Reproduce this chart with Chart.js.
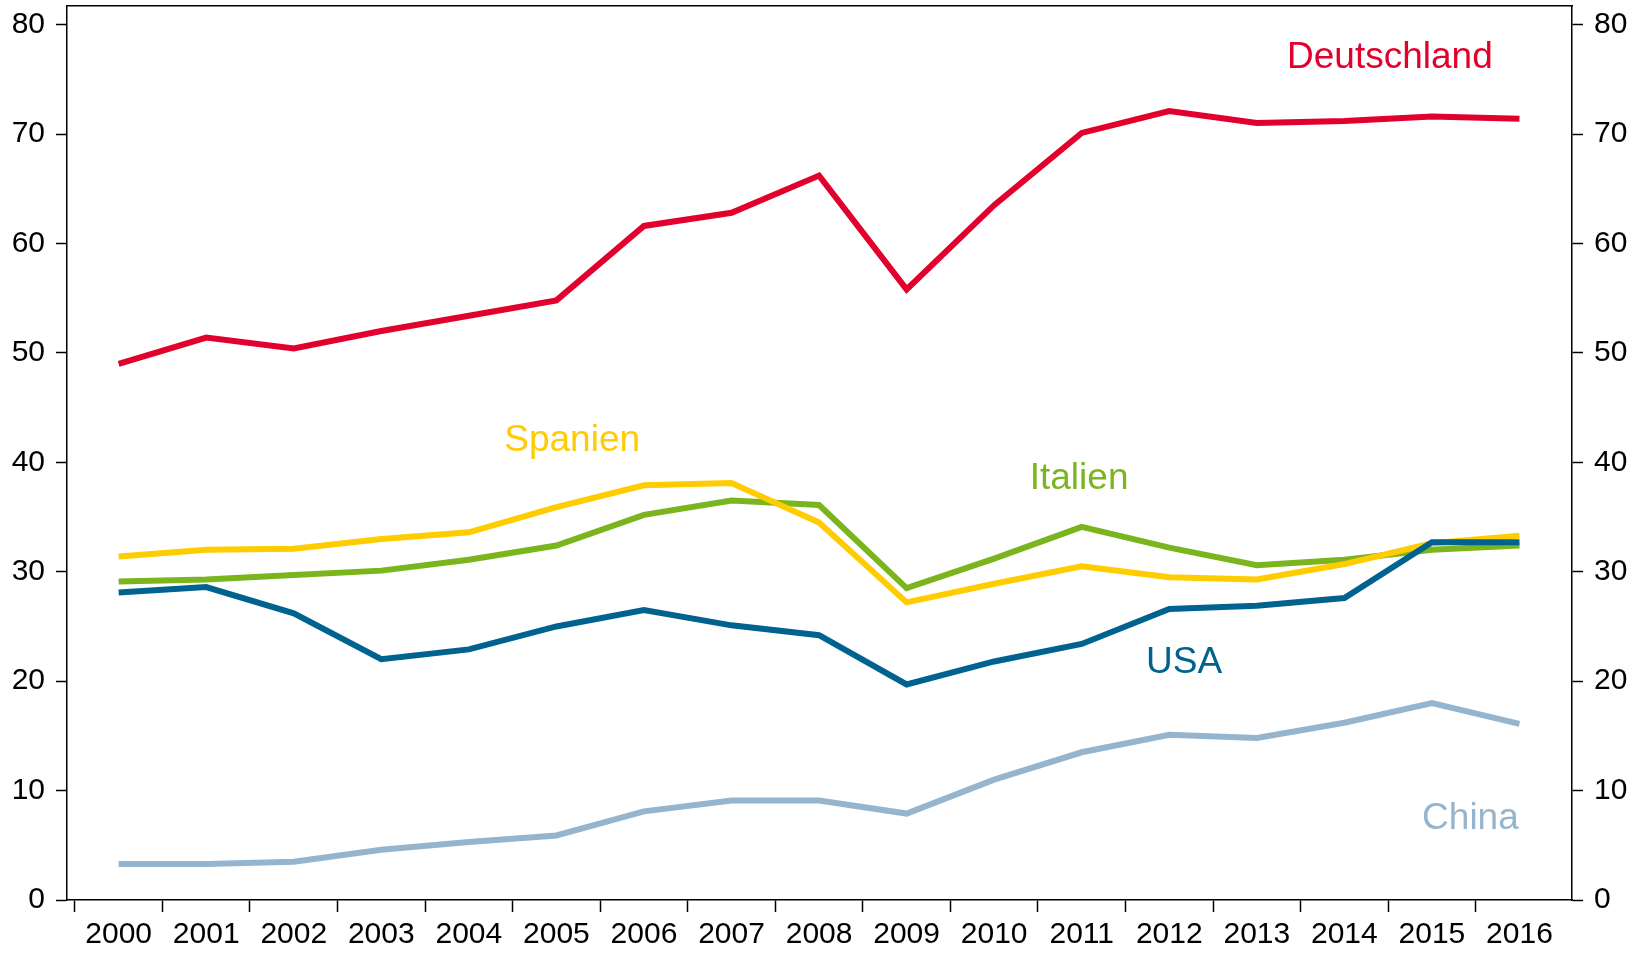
<!DOCTYPE html>
<html>
<head>
<meta charset="utf-8">
<script src="https://cdn.jsdelivr.net/npm/chart.js@4/dist/chart.umd.min.js"></script>
<style>
  html, body { margin: 0; padding: 0; background: #ffffff; }
  #wrap { width: 1647px; height: 953px; }
</style>
</head>
<body>
<div id="wrap"><canvas id="chart" width="1647" height="953"></canvas></div>
<script>
//--------------------Data-------------------
const years = ["2000", "2001", "2002", "2003", "2004", "2005", "2006", "2007", "2008",
  "2009", "2010", "2011", "2012", "2013", "2014", "2015", "2016"];

const deutschland = [49.0, 51.4, 50.4, 52.0, 53.4, 54.8, 61.6, 62.8, 66.2, 55.8, 63.5, 70.1, 72.1, 71.0, 71.2, 71.6, 71.4];
const spanien     = [31.4, 32.0, 32.1, 33.0, 33.6, 35.9, 37.9, 38.1, 34.5, 27.2, 28.9, 30.5, 29.5, 29.3, 30.7, 32.6, 33.3];
const italien     = [29.1, 29.3, 29.7, 30.1, 31.1, 32.4, 35.2, 36.5, 36.1, 28.5, 31.2, 34.1, 32.2, 30.6, 31.1, 32.0, 32.4];
const usa         = [28.1, 28.6, 26.2, 22.0, 22.9, 25.0, 26.5, 25.1, 24.2, 19.7, 21.8, 23.4, 26.6, 26.9, 27.6, 32.7, 32.7];
const china       = [3.3, 3.3, 3.5, 4.6, 5.3, 5.9, 8.1, 9.1, 9.1, 7.9, 11.0, 13.5, 15.1, 14.8, 16.2, 18.0, 16.1];

const yTicks = [0, 10, 20, 30, 40, 50, 60, 70, 80];

// ----------------Style-------------------
const FONT = "'Liberation Sans', Arial, Helvetica, sans-serif";
const colors = {
  deutschland: "#e2002d",
  spanien: "#ffcc00",
  italien: "#7ab51d",
  usa: "#00628f",
  china: "#95b5cf"
};

// series name labels, placed in data units (x = year index, y = value)
const seriesLabels = [
  { text: "Deutschland", x: 14.52, y: 77.0, color: colors.deutschland },
  { text: "Spanien", x: 5.18, y: 42.0, color: colors.spanien },
  { text: "Italien", x: 10.97, y: 38.5, color: colors.italien },
  { text: "USA", x: 12.17, y: 21.7, color: colors.usa },
  { text: "China", x: 15.44, y: 7.4, color: colors.china }
];

function toPoints(values) {
  return values.map((v, i) => ({ x: i, y: v }));
}

function makeDataset(label, values, color, order) {
  return {
    label: label,
    data: toPoints(values),
    borderColor: color,
    backgroundColor: color,
    borderWidth: 6,
    borderCapStyle: "butt",
    borderJoinStyle: "miter",
    pointRadius: 0,
    tension: 0,
    fill: false,
    order: order
  };
}

const seriesLabelPlugin = {
  id: "seriesLabels",
  afterDatasetsDraw(chart) {
    const ctx = chart.ctx;
    const xs = chart.scales.x;
    const ys = chart.scales.y;
    ctx.save();
    ctx.font = "37px " + FONT;
    ctx.textAlign = "center";
    ctx.textBaseline = "middle";
    seriesLabels.forEach((l) => {
      ctx.fillStyle = l.color;
      ctx.fillText(l.text, xs.getPixelForValue(l.x), ys.getPixelForValue(l.y));
    });
    ctx.restore();
  }
};

const xMin = -0.59;
const xMax = 16.6;

function yAxis(position, width) {
  return {
    type: "linear",
    position: position,
    min: 0,
    max: 81.7,
    afterBuildTicks: (axis) => {
      axis.ticks = yTicks.map((v) => ({ value: v }));
    },
    afterFit: (axis) => {
      axis.width = width;
      axis.paddingTop = 0;
      axis.paddingBottom = 0;
    },
    grid: {
      drawOnChartArea: false,
      drawTicks: true,
      tickLength: 11,
      tickWidth: 1.5,
      tickColor: "#000000"
    },
    border: { display: true, color: "#000000", width: 1.5 },
    ticks: {
      color: "#000000",
      padding: 11,
      font: { family: FONT, size: 30 }
    }
  };
}

const config = {
  type: "line",
  data: {
    datasets: [
      makeDataset("Deutschland", deutschland, colors.deutschland, 1),
      makeDataset("USA", usa, colors.usa, 2),
      makeDataset("Spanien", spanien, colors.spanien, 3),
      makeDataset("Italien", italien, colors.italien, 4),
      makeDataset("China", china, colors.china, 5)
    ]
  },
  options: {
    responsive: false,
    animation: false,
    layout: { padding: { left: 11, right: 18, top: 6, bottom: 3 } },
    plugins: {
      legend: { display: false },
      tooltip: { enabled: false }
    },
    scales: {
      x: {
        type: "linear",
        position: "bottom",
        min: xMin,
        max: xMax,
        afterBuildTicks: (axis) => {
          const t = [];
          for (let i = 0; i < years.length; i++) {
            t.push({ value: i - 0.5 });
            t.push({ value: i });
          }
          axis.ticks = t;
        },
        afterFit: (axis) => {
          axis.height = 50;
          axis.paddingLeft = 0;
          axis.paddingRight = 0;
        },
        grid: {
          drawOnChartArea: false,
          drawTicks: true,
          tickLength: 12,
          tickWidth: 1.5,
          tickColor: (c) => (c.tick && Number.isInteger(c.tick.value) ? "rgba(0,0,0,0)" : "#000000")
        },
        border: { display: true, color: "#000000", width: 1.5 },
        ticks: {
          autoSkip: false,
          maxRotation: 0,
          minRotation: 0,
          padding: 5,
          color: "#000000",
          font: { family: FONT, size: 30 },
          callback: (value) => (Number.isInteger(value) ? years[value] : "")
        }
      },
      xTop: {
        type: "linear",
        position: "top",
        min: xMin,
        max: xMax,
        afterFit: (axis) => {
          axis.height = 0;
          axis.paddingLeft = 0;
          axis.paddingRight = 0;
        },
        grid: { display: false, drawTicks: false },
        border: { display: true, color: "#000000", width: 1.5 },
        ticks: { display: false }
      },
      y: yAxis("left", 56),
      y2: yAxis("right", 57)
    }
  },
  plugins: [seriesLabelPlugin]
};

document.addEventListener("DOMContentLoaded", function () {
  const ctx = document.getElementById("chart").getContext("2d");
  new Chart(ctx, config);
});
</script>
</body>
</html>
